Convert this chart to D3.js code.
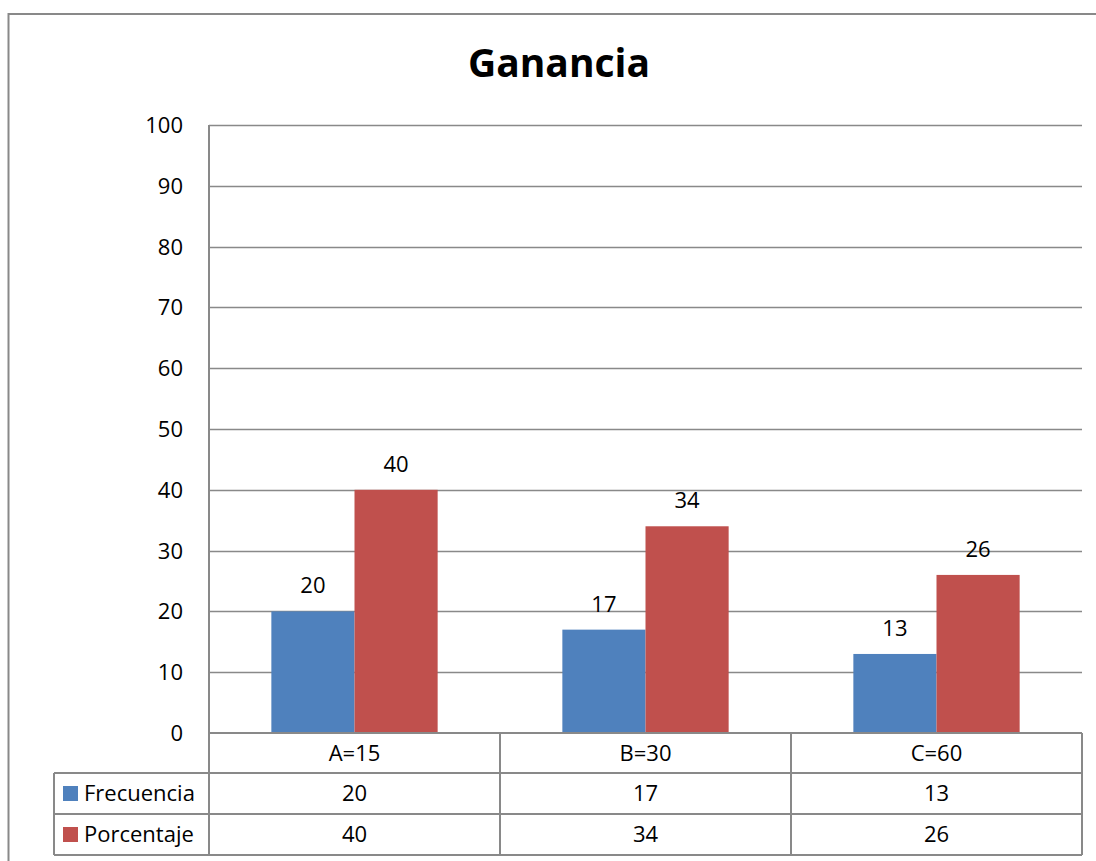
<!DOCTYPE html>
<html>
<head>
<meta charset="utf-8">
<script src="https://cdn.jsdelivr.net/npm/d3@7"></script>
<style>
  body { margin: 0; background: #fff; }
  svg text { font-family: "Open Sans", "Liberation Sans", sans-serif; fill: #000; }
</style>
</head>
<body>
<div id="chart"></div>
<script>
// chart data
var categories = ["A=15", "B=30", "C=60"]
var seriesNames = ["Frecuencia", "Porcentaje"]
var frecuencia = [20, 17, 13]
var porcentaje = [40, 34, 26]
var yTicks = [0, 10, 20, 30, 40, 50, 60, 70, 80, 90, 100]

var colors = { "Frecuencia": "#4f81bd", "Porcentaje": "#c0504d" }
var lineColor = "#898989"
var fs = 22

var W = 1096, H = 861
var pLeft = 209, pRight = 1082, pTop = 125, pBottom = 733
var rowH = 41

var svg = d3.select("#chart").append("svg")
  .attr("width", W)
  .attr("height", H)

// outer frame
svg.append("rect")
  .attr("x", 8.5).attr("y", 14)
  .attr("width", W + 20).attr("height", H + 20)
  .attr("fill", "none")
  .attr("stroke", lineColor)
  .attr("stroke-width", 2)

svg.append("text")
  .attr("x", 559).attr("y", 77)
  .attr("text-anchor", "middle")
  .attr("font-size", 39)
  .attr("font-weight", "bold")
  .text("Ganancia")

var y = d3.scaleLinear().domain([0, 100]).range([pBottom, pTop])
var x0 = d3.scaleBand().domain(categories).range([pLeft, pRight]).padding(0)
var x1 = d3.scaleBand().domain(seriesNames).range([0, x0.bandwidth()])
  .paddingInner(0).paddingOuter(0.75)

// gridlines
svg.append("g")
  .selectAll("line")
  .data(yTicks.filter(d => d > 0))
  .join("line")
  .attr("x1", pLeft).attr("x2", pRight)
  .attr("y1", d => Math.round(y(d)) + 0.5)
  .attr("y2", d => Math.round(y(d)) + 0.5)
  .attr("stroke", lineColor)
  .attr("stroke-width", 1.5)

// y tick labels
svg.append("g")
  .selectAll("text")
  .data(yTicks)
  .join("text")
  .attr("x", 183)
  .attr("y", d => y(d))
  .attr("dy", "0.36em")
  .attr("text-anchor", "end")
  .attr("font-size", fs)
  .text(d => d)

var rows = categories.map((c, i) => ({
  cat: c,
  vals: [
    { name: "Frecuencia", value: frecuencia[i] },
    { name: "Porcentaje", value: porcentaje[i] }
  ]
}))

var groups = svg.append("g")
  .selectAll("g")
  .data(rows)
  .join("g")
  .attr("transform", d => `translate(${x0(d.cat)},0)`)

groups.selectAll("rect")
  .data(d => d.vals)
  .join("rect")
  .attr("x", d => x1(d.name))
  .attr("y", d => y(d.value))
  .attr("width", x1.bandwidth())
  .attr("height", d => pBottom - y(d.value))
  .attr("fill", d => colors[d.name])

groups.selectAll("text")
  .data(d => d.vals)
  .join("text")
  .attr("x", d => x1(d.name) + x1.bandwidth() / 2)
  .attr("y", d => y(d.value) - 18)
  .attr("text-anchor", "middle")
  .attr("font-size", fs)
  .text(d => d.value)

// data table under the axis
var table = svg.append("g")
  .attr("stroke", lineColor)
  .attr("stroke-width", 2)
  .attr("fill", "none")

var r0 = pBottom, r1 = pBottom + 40, r2 = r1 + rowH, r3 = r2 + rowH
var tl = 54

table.append("line").attr("x1", pLeft).attr("x2", pRight).attr("y1", r0).attr("y2", r0)
;[r1, r2, r3].forEach(function (yy) {
  table.append("line").attr("x1", tl).attr("x2", pRight).attr("y1", yy).attr("y2", yy)
})
table.append("line").attr("x1", pLeft).attr("x2", pLeft).attr("y1", pTop).attr("y2", r3)
table.append("line").attr("x1", tl).attr("x2", tl).attr("y1", r1).attr("y2", r3)
categories.forEach(function (c, i) {
  var xx = x0(c) + x0.bandwidth()
  table.append("line").attr("x1", xx).attr("x2", xx).attr("y1", r0).attr("y2", r3)
})

svg.append("g")
  .selectAll("text")
  .data(categories)
  .join("text")
  .attr("x", d => x0(d) + x0.bandwidth() / 2)
  .attr("y", (r0 + r1) / 2)
  .attr("dy", "0.36em")
  .attr("text-anchor", "middle")
  .attr("font-size", fs)
  .text(d => d)

var tableRows = [
  { name: "Frecuencia", vals: frecuencia, y0: r1 },
  { name: "Porcentaje", vals: porcentaje, y0: r2 }
]

tableRows.forEach(function (row) {
  var cy = row.y0 + rowH / 2
  svg.append("rect")
    .attr("x", 63).attr("y", cy - 7.5)
    .attr("width", 15).attr("height", 15)
    .attr("fill", colors[row.name])
  svg.append("text")
    .attr("x", 84).attr("y", cy)
    .attr("dy", "0.36em")
    .attr("font-size", fs)
    .text(row.name)
  row.vals.forEach(function (v, i) {
    svg.append("text")
      .attr("x", x0(categories[i]) + x0.bandwidth() / 2)
      .attr("y", cy)
      .attr("dy", "0.36em")
      .attr("text-anchor", "middle")
      .attr("font-size", fs)
      .text(v)
  })
})
</script>
</body>
</html>
